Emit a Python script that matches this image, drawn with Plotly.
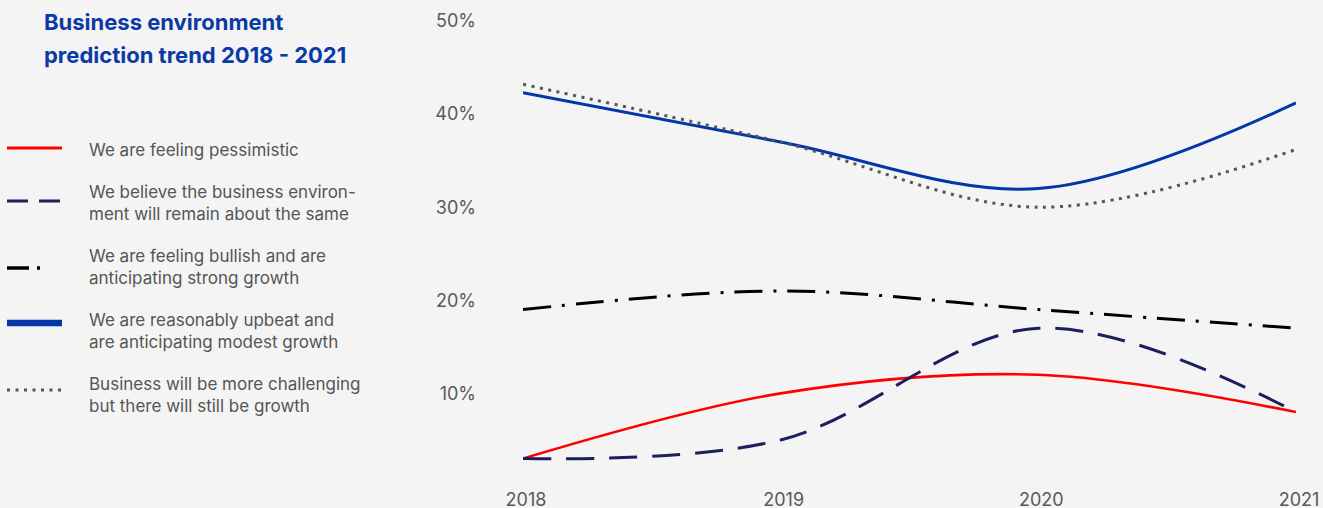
import plotly.graph_objects as go

# Survey years and share of respondents (%) per outlook
years = [2018, 2019, 2020, 2021]
pessimistic = [3, 10, 12, 8]
about_same = [3, 5, 17, 8]
bullish = [19, 21, 19, 17]
upbeat = [42.3, 37, 32, 41.2]
challenging = [43.2, 37, 30, 36.2]

y_ticks = [10, 20, 30, 40, 50]
y_tick_labels = ["10%", "20%", "30%", "40%", "50%"]

labels = [
    "We are feeling pessimistic",
    "We believe the business environ-<br>ment will remain about the same",
    "We are feeling bullish and are<br>anticipating strong growth",
    "We are reasonably upbeat and<br>are anticipating modest growth",
    "Business will be more challenging<br>but there will still be growth",
]
title_lines = ["Business environment", "prediction trend 2018 - 2021"]

W, H = 1323, 508
BG = "#f4f4f4"
FONT = "Inter"

series = [
    (pessimistic, dict(color="#ff0000", width=2.6, dash="solid")),
    (about_same, dict(color="#1b1f5e", width=3, dash="28px,15px")),
    (bullish, dict(color="#000000", width=3, dash="28px,11px,3px,11px")),
    (upbeat, dict(color="#0336a6", width=3, dash="solid")),
    (challenging, dict(color="#555555", width=3, dash="3px,5.5px")),
]

fig = go.Figure()
for (vals, line), name in zip(series, labels):
    fig.add_trace(go.Scatter(
        x=years, y=vals, mode="lines", name=name,
        line=dict(shape="spline", smoothing=1, **line),
        showlegend=False, hoverinfo="skip",
    ))

# Hand-built legend on the left: sample line + wrapped label
legend_rows = [
    (148, 150, 62, dict(color="#ff0000", width=3, dash="solid")),
    (201, 203, 62, dict(color="#1b1f5e", width=3, dash="21px,11px")),
    (268, 267, 42, dict(color="#000000", width=3.5, dash="22px,8px,3px,20px")),
    (323, 331, 62, dict(color="#0336a6", width=6.5, dash="solid")),
    (390, 395, 62, dict(color="#555555", width=3, dash="3px,5.5px")),
]
shapes = []
annotations = []
for (ly, ty, x_end, line), text in zip(legend_rows, labels):
    shapes.append(dict(
        type="line", xref="paper", yref="paper",
        x0=7 / W, x1=x_end / W, y0=1 - ly / H, y1=1 - ly / H,
        line=line,
    ))
    annotations.append(dict(
        text=text, xref="paper", yref="paper",
        x=87 / W, y=1 - ty / H, xanchor="left", yanchor="middle",
        align="left", showarrow=False,
        font=dict(family=FONT, size=17, color="#555555"),
    ))

for line_text, ty in zip(title_lines, [22, 55]):
    annotations.append(dict(
        text=f"<b>{line_text}</b>",
        xref="paper", yref="paper", x=42 / W, y=1 - ty / H,
        xanchor="left", yanchor="middle", align="left", showarrow=False,
        font=dict(family=FONT, size=22, color="#0a3aa6"),
    ))

fig.update_layout(
    width=W, height=H,
    margin=dict(l=0, r=0, t=0, b=0),
    paper_bgcolor=BG, plot_bgcolor=BG,
    font=dict(family=FONT, color="#595959"),
    shapes=shapes, annotations=annotations,
    xaxis=dict(
        domain=[523 / W, 1296 / W], range=[2018, 2021],
        tickvals=years, ticktext=[str(y) for y in years],
        showgrid=False, zeroline=False, showline=False,
        tickfont=dict(family=FONT, size=18, color="#595959"),
        ticklabelshift=3,
        automargin=False, fixedrange=True,
    ),
    yaxis=dict(
        domain=[21.5 / H, 487 / H], range=[0, 50],
        tickvals=y_ticks, ticktext=y_tick_labels,
        showgrid=False, zeroline=False, showline=False,
        tickfont=dict(family=FONT, size=18, color="#595959"),
        ticklabelstandoff=46,
        automargin=False, fixedrange=True,
    ),
)

fig.write_html("out.html")
